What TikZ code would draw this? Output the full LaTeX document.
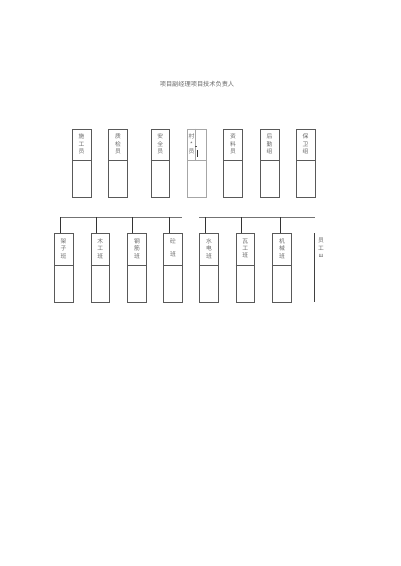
\documentclass[tikz,border=0pt]{standalone}
\usepackage{fontspec}
\newfontfamily\cjk{Noto Sans CJK SC}
\begin{document}
\begin{tikzpicture}[x=1pt,y=-1pt,
  unit/.style={draw=black!65,line width=0.7pt,minimum width=18.5pt,minimum height=68.3pt,inner sep=0pt,anchor=north west},
  faint/.style={draw=black!35,line width=0.5pt},
  lbl/.style={font=\cjk\fontsize{5.8}{7.4}\selectfont,text=black!60,align=center,inner sep=0pt,anchor=north},
  bus/.style={draw=black!55,line width=0.8pt},
  drop/.style={draw=black!80,line width=0.8pt}]
\useasboundingbox (0,0) rectangle (400,566);
\node[lbl,anchor=center,font=\cjk\fontsize{6.2}{7}\selectfont] (title) at (197,84) {项目副经理项目技术负责人};
% top row
\foreach \n/\x/\t in {t1/72/施\\工\\员, t2/108.3/质\\检\\员, t3/150.7/安\\全\\员, t5/223.3/资\\料\\员, t6/260/后\\勤\\组, t7/296/保\\卫\\组}{
  \node[unit] (\n) at (\x,128.7) {};
  \draw[draw=black!65,line width=0.7pt] ([yshift=-31.3pt]\n.north west) -- ([yshift=-31.3pt]\n.north east);
  \node[lbl] (\n l) at ([yshift=-5pt]\n.north) {\t};
}
% odd box
\node[unit,faint] (t4) at (187.3,128.7) {};
\draw[faint] ([yshift=-31.3pt]t4.north west) -- ([yshift=-31.3pt]t4.north east);
\draw[faint] ([xshift=7.7pt]t4.north west) -- ([xshift=7.7pt,yshift=-31.3pt]t4.north west);
\node[lbl] (t4l) at ([xshift=-5.3pt,yshift=-5pt]t4.north) {村\\*\\员};
\draw[draw=black!70,line width=0.6pt] ([xshift=8pt,yshift=-18pt]t4.north west) -- ([xshift=10pt,yshift=-18pt]t4.north west);
\draw[draw=black!80,line width=1.1pt] ([xshift=10.2pt,yshift=-21.5pt]t4.north west) -- ([xshift=10.2pt,yshift=-28.5pt]t4.north west);
% bottom row
\coordinate (busAl) at (60,217.3);
\coordinate (busAr) at (181.7,217.3);
\coordinate (busBl) at (199.3,217.3);
\coordinate (busBr) at (315,217.3);
\draw[bus] (busAl) -- (busAr);
\draw[bus] (busBl) -- (busBr);
\foreach \n/\x/\d/\t/\bl in {b1/54/6.7/架\\子\\班/busAl, b2/90.7/6/木\\工\\班/busAl, b3/127.3/5.4/钢\\筋\\班/busAl, b4/163.3/5.7/砼\\[6pt]班/busAl, b5/199.3/6.4/水\\电\\班/busBl, b6/235.7/6/瓦\\工\\班/busBl, b7/272.3/8.4/机\\械\\班/busBl}{
  \node[unit] (\n) at (\x,233.3) {};
  \draw[draw=black!65,line width=0.7pt] ([yshift=-32.4pt]\n.north west) -- ([yshift=-32.4pt]\n.north east);
  \node[lbl] (\n l) at ([yshift=-5pt]\n.north) {\t};
  \coordinate (\n-d) at ([xshift=\d pt]\n.north west);
  \draw[drop] (\n-d |- \bl) -- (\n-d);
}
\coordinate (rtop) at (314,233.3);
\coordinate (rbot) at (314,301.7);
\draw[draw=black!75,line width=0.9pt] (rtop) -- (rbot);
\node[lbl,anchor=north] (rl) at (321,238) {员\\工\\ш};
\end{tikzpicture}
\end{document}
